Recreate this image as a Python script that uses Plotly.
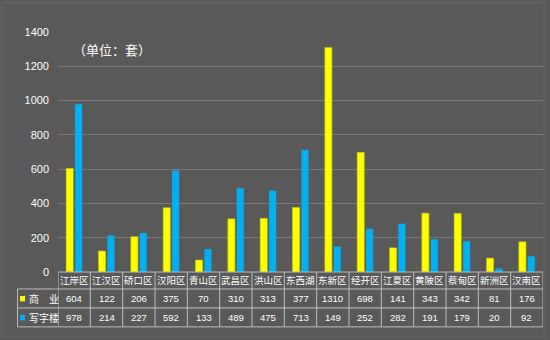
import plotly.graph_objects as go

districts = ["江岸区", "江汉区", "硚口区", "汉阳区", "青山区", "武昌区", "洪山区", "东西湖",
             "东新区", "经开区", "江夏区", "黄陂区", "蔡甸区", "新洲区", "汉南区"]
commercial = [604, 122, 206, 375, 70, 310, 313, 377, 1310, 698, 141, 343, 342, 81, 176]
office = [978, 214, 227, 592, 133, 489, 475, 713, 149, 252, 282, 191, 179, 20, 92]
series_names = ["商　业", "写字楼"]
y_ticks = [0, 200, 400, 600, 800, 1000, 1200, 1400]

W, H = 550, 340
L, R, T, B = 57.5, 543, 32, 272.5  # plot area in pixels
BG = "#595959"
GRID = "#7a7a7a"
TABLE = "#bdbdbd"
YELLOW = "#ffff00"
BLUE = "#00b0f0"
CJK = "Noto Sans CJK SC"
NUM = "Liberation Sans, Arial"


def py(y_px):
    return (B - y_px) / (B - T)


def px(x_px):
    return (x_px - L) / (R - L)


fig = go.Figure()
fig.add_bar(x=districts, y=commercial, name=series_names[0],
            marker=dict(color=YELLOW, line=dict(color="#c8c800", width=0.6)))
fig.add_bar(x=districts, y=office, name=series_names[1],
            marker=dict(color=BLUE, line=dict(width=0)))

shapes = []
annotations = []
n = len(districts)
row_y = [B, 289.5, 308.5, 327.5]

# horizontal table rules
shapes.append(dict(type="line", xref="paper", yref="paper", x0=0, x1=1,
                   y0=py(row_y[0]), y1=py(row_y[0]), line=dict(color=TABLE, width=1)))
for yy in row_y[1:]:
    shapes.append(dict(type="line", xref="paper", yref="paper", x0=px(17), x1=1,
                       y0=py(yy), y1=py(yy), line=dict(color=TABLE, width=1)))
# vertical table rules
shapes.append(dict(type="line", xref="paper", yref="paper", x0=px(17), x1=px(17),
                   y0=py(row_y[1]), y1=py(row_y[3]), line=dict(color=TABLE, width=1)))
for i in range(n + 1):
    shapes.append(dict(type="line", xref="x", yref="paper", x0=i - 0.5, x1=i - 0.5,
                       y0=py(row_y[0]), y1=py(row_y[3]), line=dict(color=TABLE, width=1)))

# table cell text
centers = [(row_y[k] + row_y[k + 1]) / 2 for k in range(3)]
cell = dict(xref="x", yref="paper", showarrow=False, xanchor="center", yanchor="middle")
for i, d in enumerate(districts):
    annotations.append(dict(cell, x=i, y=py(centers[0]), text=d,
                            font=dict(family=CJK, size=9.5, color="white")))
    annotations.append(dict(cell, x=i, y=py(centers[1]), text=str(commercial[i]),
                            font=dict(family=NUM, size=9.5, color="white")))
    annotations.append(dict(cell, x=i, y=py(centers[2]), text=str(office[i]),
                            font=dict(family=NUM, size=9.5, color="white")))

# legend keys inside the table
for k, (name, col) in enumerate(zip(series_names, [YELLOW, BLUE])):
    yc = centers[k + 1]
    shapes.append(dict(type="rect", xref="paper", yref="paper", x0=px(19.5), x1=px(24.5),
                       y0=py(yc + 3), y1=py(yc - 2.5), fillcolor=col, line=dict(width=0)))
    annotations.append(dict(x=px(26), y=py(yc), xref="paper", yref="paper", text=name,
                            xanchor="left", yanchor="middle", showarrow=False,
                            font=dict(family=CJK, size=10, color="white")))

# unit note
annotations.append(dict(x=px(71), y=py(50), xref="paper", yref="paper", text="（单位：套）",
                        xanchor="left", yanchor="middle", showarrow=False,
                        font=dict(family=CJK, size=13, color="white")))

# thin outer frame
shapes.append(dict(type="rect", xref="paper", yref="paper", x0=px(1.5), x1=px(W - 5.5),
                   y0=py(H - 2.5), y1=py(2.5), line=dict(color="#5f5f5f", width=3),
                   layer="below"))

fig.update_layout(
    width=W, height=H,
    margin=dict(l=L, r=W - R, t=T, b=H - B, pad=0),
    paper_bgcolor=BG, plot_bgcolor=BG,
    barmode="group", bargap=0.45, bargroupgap=0.2,
    showlegend=False,
    shapes=shapes, annotations=annotations,
    xaxis=dict(range=[-0.5, n - 0.5], showticklabels=False, showgrid=False,
               zeroline=False, showline=False, ticks=""),
    yaxis=dict(range=[0, 1400], tickvals=y_ticks, showgrid=True, gridcolor=GRID,
               gridwidth=1, zeroline=False, showline=False, ticks="",
               tickfont=dict(family=NUM, size=11, color="white"), ticklabelstandoff=8),
)

fig.write_html("out.html")
